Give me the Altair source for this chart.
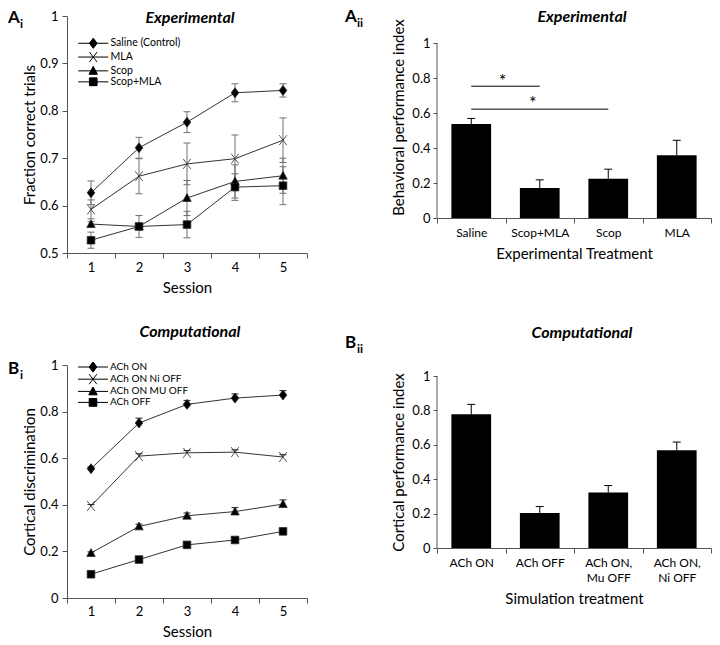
import altair as alt
import pandas as pd

FONT = "Lato"

# ---------------- data ----------------
sessions = [1, 2, 3, 4, 5]

exp_series = ["Saline (Control)", "MLA", "Scop", "Scop+MLA"]
exp_saline = [0.627, 0.722, 0.776, 0.838, 0.843]
exp_saline_err = [0.025, 0.022, 0.022, 0.019, 0.014]
exp_mla = [0.592, 0.662, 0.688, 0.699, 0.738]
exp_mla_err = [0.020, 0.037, 0.044, 0.050, 0.047]
exp_scop = [0.561, 0.556, 0.616, 0.651, 0.663]
exp_scop_err = [0.005, 0.005, 0.037, 0.035, 0.037]
exp_scopmla = [0.527, 0.556, 0.560, 0.639, 0.642]
exp_scopmla_err = [0.017, 0.023, 0.028, 0.028, 0.040]

beh_treatments = ["Saline", "Scop+MLA", "Scop", "MLA"]
beh_index = [0.537, 0.171, 0.224, 0.359]
beh_err = [0.032, 0.047, 0.055, 0.085]

sig_from = ["Saline", "Saline"]
sig_to = ["Scop+MLA", "Scop"]
sig_y = [0.753, 0.622]
star_cat = ["Saline", "Scop+MLA"]
star_y = [0.80, 0.675]

comp_series = ["ACh ON", "ACh ON Ni OFF", "ACh ON MU OFF", "ACh OFF"]
comp_ach_on = [0.555, 0.751, 0.831, 0.858, 0.871]
comp_ach_on_err = [0.008, 0.021, 0.017, 0.018, 0.019]
comp_ni_off = [0.395, 0.609, 0.623, 0.626, 0.605]
comp_ni_off_err = [0.006, 0.010, 0.010, 0.010, 0.010]
comp_mu_off = [0.193, 0.307, 0.353, 0.371, 0.403]
comp_mu_off_err = [0.005, 0.010, 0.012, 0.017, 0.018]
comp_ach_off = [0.102, 0.165, 0.228, 0.249, 0.286]
comp_ach_off_err = [0.008, 0.008, 0.008, 0.010, 0.010]

sim_treatments = ["ACh ON", "ACh OFF", "ACh ON, Mu OFF", "ACh ON, Ni OFF"]
sim_index = [0.777, 0.204, 0.322, 0.569]
sim_err = [0.058, 0.037, 0.041, 0.047]

# marker shapes (diamond, x, triangle, square)
marker_paths = [
    "M0,-1.25L0.95,0L0,1.25L-0.95,0Z",
    "M-0.95,-1.25L0.95,1.25M-0.95,1.25L0.95,-1.25",
    "M0,-1.1L1.05,0.85L-1.05,0.85Z",
    "M-0.95,-0.95L0.95,-0.95L0.95,0.95L-0.95,0.95Z",
]
LEG_LINE = "M-3.75,0L3.75,0"


def _scan(halfwidth, y0, y1, step=0.2):
    """Stroke-only fill of a marker glyph (for legend symbols)."""
    out, y = [], y0
    while y <= y1 + 1e-9:
        w = max(halfwidth(y), 0.0)
        out.append("M%.3f,%.3fL%.3f,%.3f" % (-w, y, w, y))
        y += step
    return "".join(out)


legend_glyphs = [
    marker_paths[0] + _scan(lambda y: 0.95 * (1 - abs(y) / 1.25), -1.25, 1.25),
    marker_paths[1],
    marker_paths[2] + _scan(lambda y: 1.05 * (y + 1.1) / 1.95, -1.1, 0.85),
    marker_paths[3] + _scan(lambda y: 0.95, -0.95, 0.95),
]


def panel_title(text, x, y):
    return alt.Chart(pd.DataFrame({"t": [text]})).mark_text(
        font=FONT, fontSize=16, fontWeight="bold", fontStyle="italic",
        align="center", baseline="middle", color="black"
    ).encode(text="t:N", x=alt.value(x), y=alt.value(y))


def panel_label(letter, sub, x, y):
    d = pd.DataFrame({"t": [letter], "s": [sub]})
    a = alt.Chart(d).mark_text(font=FONT, fontSize=17, fontWeight="bold", align="left",
                               baseline="top", color="black").encode(
        text="t:N", x=alt.value(x), y=alt.value(y))
    b = alt.Chart(d).mark_text(font=FONT, fontSize=12, fontWeight="bold", align="left",
                               baseline="top", color="black").encode(
        text="s:N", x=alt.value(x + 12), y=alt.value(y + 9))
    return [a, b]


def line_panel(series, vals, errs, upper_only, ydom, yvals, ytitle, w, h,
               leg_x, leg_y, leg_fs, leg_rp, err_color, title, title_y, lab, lab_y,
               x_lab_pad, x_title_pad):
    rows = []
    for name, vl, el in zip(series, vals, errs):
        for s, v, e in zip(sessions, vl, el):
            rows.append(dict(series=name, session=s, value=v,
                             lo=v if upper_only else v - e, hi=v + e))
    df = pd.DataFrame(rows)
    xscale = alt.Scale(type="band", domain=sessions, paddingInner=0, paddingOuter=0)
    xaxis = alt.Axis(title="Session", labelAngle=0, tickBand="extent",
                     labelPadding=x_lab_pad, titlePadding=x_title_pad)
    yscale = alt.Scale(domain=ydom, nice=False, zero=False)
    yaxis = alt.Axis(values=yvals, format="~g", title=ytitle, labelPadding=4, titlePadding=2)

    def X():
        return alt.X("session:O", scale=xscale, axis=xaxis, bandPosition=0.5)

    def Y(f):
        return alt.Y(f, scale=yscale, axis=yaxis)

    base = alt.Chart(df)
    line = base.mark_line(color="#333333", strokeWidth=1).encode(
        x=X(), y=Y("value:Q"), detail="series:N")
    rule = base.mark_rule(color=err_color, strokeWidth=1).encode(
        x=X(), y=Y("lo:Q"), y2="hi:Q")
    cap_hi = base.mark_tick(color=err_color, size=7, thickness=1, opacity=1).encode(
        x=X(), y=Y("hi:Q"))
    layers = [line, rule, cap_hi]
    if not upper_only:
        layers.append(base.mark_tick(color=err_color, size=7, thickness=1, opacity=1).encode(
            x=X(), y=Y("lo:Q")))
    leg_paths = [LEG_LINE + p for p in legend_glyphs]
    legend = alt.Legend(
        title=None, orient="none", legendX=leg_x, legendY=leg_y,
        labelFont=FONT, labelFontSize=leg_fs, labelColor="black",
        symbolSize=64, symbolStrokeWidth=1, symbolOpacity=1, labelOffset=12, symbolOffset=11,
        rowPadding=leg_rp,
    )
    pts = base.mark_point(filled=True, size=64, opacity=1, fill="black",
                          stroke="#2a2a2a", strokeWidth=0.8).encode(
        x=X(), y=Y("value:Q"),
        shape=alt.Shape("series:N", scale=alt.Scale(domain=series, range=marker_paths),
                        legend=None))
    leg_layer = base.mark_point(filled=False, size=0, opacity=1, fill="black",
                                stroke="black", strokeWidth=1).encode(
        x=X(), y=Y("value:Q"),
        shape=alt.Shape("series:N", scale=alt.Scale(domain=series, range=leg_paths),
                        legend=legend))
    layers += [pts, leg_layer]
    layers.append(panel_title(title, w / 2 + 3, title_y))
    layers += panel_label(lab[0], lab[1], -59, lab_y)
    return alt.layer(*layers).resolve_scale(shape="independent").resolve_legend(
        shape="independent").properties(width=w, height=h)


def bar_panel(cats, vals, errs, xtitle, ytitle, w, h, top_pad, title, title_y, lab, lab_x,
              lab_y, label_expr=None, extra=None):
    df = pd.DataFrame({"cat": cats, "value": vals,
                       "hi": [v + e for v, e in zip(vals, errs)]})
    xscale = alt.Scale(type="band", domain=cats, paddingInner=0, paddingOuter=0)
    ax_kw = dict(title=xtitle, labelAngle=0, tickBand="extent", labelPadding=4,
                 titlePadding=8, labelFontSize=12, labelLineHeight=15)
    if label_expr:
        ax_kw["labelExpr"] = label_expr
    xaxis = alt.Axis(**ax_kw)
    ytop = 1 + top_pad / h  # empty headroom above the axis top (value 1)
    yscale = alt.Scale(domain=[0, ytop], nice=False, zero=True)
    yaxis = alt.Axis(values=[0, 0.2, 0.4, 0.6, 0.8, 1], format="~g", title=ytitle,
                     labelPadding=3, titlePadding=5, tickSize=4, domain=False)

    def X(f="cat:N", bp=0.5):
        return alt.X(f, scale=xscale, axis=xaxis, bandPosition=bp)

    def Y(f):
        return alt.Y(f, scale=yscale, axis=yaxis)

    base = alt.Chart(df)
    bars = base.mark_bar(color="black", width={"band": 0.58}).encode(
        x=alt.X("cat:N", scale=xscale, axis=xaxis), y=Y("value:Q"))
    rule = base.mark_rule(color="black", strokeWidth=1).encode(x=X(), y=Y("value:Q"), y2="hi:Q")
    cap = base.mark_tick(color="black", size=8, thickness=1, opacity=1).encode(x=X(), y=Y("hi:Q"))
    yline = alt.Chart(pd.DataFrame({"a": [0.0], "b": [1.0]})).mark_rule(
        color="#555555", strokeWidth=1).encode(x=alt.value(0), y=Y("a:Q"), y2="b:Q")
    layers = [bars, rule, cap, yline]
    if extra:
        layers += extra(X, Y)
    ty = title_y + top_pad
    layers.append(panel_title(title, w / 2 + 8, ty))
    layers += panel_label(lab[0], lab[1], lab_x, lab_y + top_pad)
    return alt.layer(*layers).properties(width=w, height=h + top_pad)


def sig_layers(X, Y):
    sd = pd.DataFrame({"from": sig_from, "to": sig_to, "y": sig_y})
    stars = pd.DataFrame({"cat": star_cat, "y": star_y, "t": ["*", "*"]})
    r = alt.Chart(sd).mark_rule(color="black", strokeWidth=1).encode(
        x=X("from:N"), x2=alt.X2("to:N", bandPosition=0.5), y=Y("y:Q"))
    s1 = alt.Chart(stars).transform_filter(alt.datum.cat == star_cat[0]).mark_text(
        font=FONT, fontSize=18, baseline="middle", color="black", dx=-3, dy=4).encode(
        x=X("cat:N", 1.0), y=Y("y:Q"), text="t:N")
    s2 = alt.Chart(stars).transform_filter(alt.datum.cat == star_cat[1]).mark_text(
        font=FONT, fontSize=18, baseline="middle", color="black", dx=-7, dy=4).encode(
        x=X("cat:N", 0.5), y=Y("y:Q"), text="t:N")
    return [r, s1, s2]


ai = line_panel(exp_series, [exp_saline, exp_mla, exp_scop, exp_scopmla],
                [exp_saline_err, exp_mla_err, exp_scop_err, exp_scopmla_err],
                False, [0.5, 1.0], [0.5, 0.6, 0.7, 0.8, 0.9, 1.0],
                "Fraction correct trials", 240, 237,
                10, 22, 10.5, -1.2, "#707070", "Experimental", 2, ("A", "i"), -6, 3, 6)

aii = bar_panel(beh_treatments, beh_index, beh_err, "Experimental Treatment",
                "Behavioral performance index", 274, 175, 27, "Experimental", -26,
                ("A", "ii"), -92, -34, extra=sig_layers)

bi = line_panel(comp_series, [comp_ach_on, comp_ni_off, comp_mu_off, comp_ach_off],
                [comp_ach_on_err, comp_ni_off_err, comp_mu_off_err, comp_ach_off_err],
                True, [0.0, 1.0], [0, 0.2, 0.4, 0.6, 0.8, 1.0],
                "Cortical discrimination", 240, 233,
                10, -3, 10, -1.8, "#222222", "Computational", -33, ("B", "i"), -4, 2, 6)

bii = bar_panel(sim_treatments, sim_index, sim_err, "Simulation treatment",
                "Cortical performance index", 274, 172, 0, "Computational", -43,
                ("B", "ii"), -92, -41,
                label_expr="indexof(datum.label, ',') > 0 ? [slice(datum.label, 0, indexof(datum.label, ',') + 1), slice(datum.label, indexof(datum.label, ',') + 2)] : datum.label")

IND = dict(shape="independent")

col1 = alt.vconcat(ai, bi, spacing=29).resolve_scale(**IND).resolve_legend(**IND)
col2 = alt.vconcat(aii, bii, spacing=64).resolve_scale(**IND).resolve_legend(**IND)

chart = alt.hconcat(col1, col2, spacing=37).resolve_scale(**IND).resolve_legend(
    **IND).properties(
    padding=0, background="white"
).configure_view(stroke=None).configure_axis(
    labelFont=FONT, titleFont=FONT, labelColor="black", titleColor="black",
    titleFontWeight="normal", labelFontSize=13, titleFontSize=15,
    domainColor="#555555", tickColor="#555555", grid=False, tickSize=5,
    domainWidth=1, tickWidth=1
)

chart.save("out.html", embed_options={"renderer": "svg", "actions": False})
